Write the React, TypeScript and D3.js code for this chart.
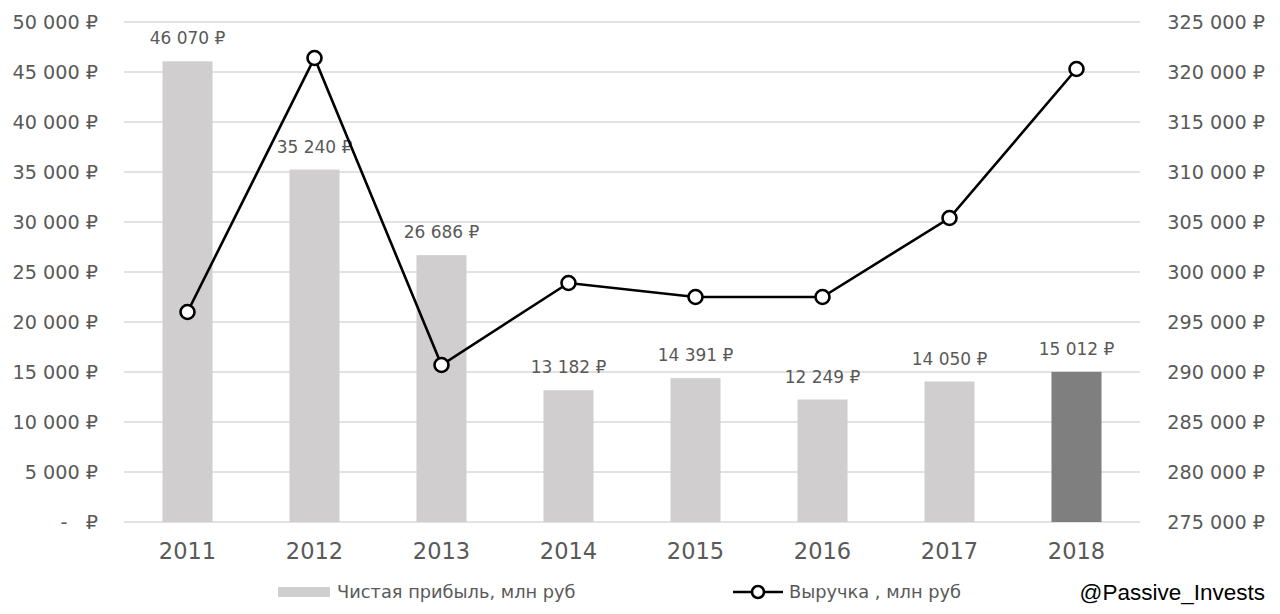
import { useEffect } from 'react';
import * as d3 from 'd3';

const years = ['2011', '2012', '2013', '2014', '2015', '2016', '2017', '2018'];
const profit = [46070, 35240, 26686, 13182, 14391, 12249, 14050, 15012];
const revenue = [296000, 321400, 290700, 298900, 297500, 297500, 305400, 320300];
const leftTicks = [0, 5000, 10000, 15000, 20000, 25000, 30000, 35000, 40000, 45000, 50000];
const rightTicks = [275000, 280000, 285000, 290000, 295000, 300000, 305000, 310000, 315000, 320000, 325000];

const W = 1280;
const H = 614;
const plot = { left: 124, right: 1140, top: 22, bottom: 522 };
const font = '"DejaVu Sans", "Noto Sans", sans-serif';
const textColor = '#595959';

const fmt = d3.format(',');
const rub = (v: number) => (v === 0 ? '-\u00a0\u00a0\u00a0₽' : fmt(v).replace(/,/g, '\u00a0') + '\u00a0₽');

export default function App() {
  useEffect(() => {
    document.body.style.margin = '0';
  }, []);

  const x = d3
    .scaleBand()
    .domain(years)
    .range([plot.left, plot.right])
    .paddingInner(0.606)
    .paddingOuter(0.303);
  const yL = d3.scaleLinear().domain([0, 50000]).range([plot.bottom, plot.top]);
  const yR = d3.scaleLinear().domain([275000, 325000]).range([plot.bottom, plot.top]);
  const cx = (y: string) => x(y)! + x.bandwidth() / 2;

  const line = d3
    .line<number>()
    .x((_, i) => cx(years[i]))
    .y(d => yR(d));

  return (
    <svg width={W} height={H} style={{ display: 'block', background: '#fff' }} fontFamily={font}>
      {leftTicks.map(t => (
        <line key={t} x1={plot.left} x2={plot.right} y1={yL(t)} y2={yL(t)} stroke="#d9d9d9" strokeWidth={1.5} />
      ))}
      {leftTicks.map(t => (
        <text key={t} x={98} y={yL(t)} dy="0.35em" textAnchor="end" fontSize={19.2} fill={textColor}>
          {rub(t)}
        </text>
      ))}
      {rightTicks.map(t => (
        <text key={t} x={1265} y={yR(t)} dy="0.35em" textAnchor="end" fontSize={19.2} fill={textColor}>
          {rub(t)}
        </text>
      ))}
      {years.map((yr, i) => (
        <rect
          key={yr}
          x={x(yr)}
          width={x.bandwidth()}
          y={yL(profit[i])}
          height={yL(0) - yL(profit[i])}
          fill={yr === '2018' ? '#7f7f7f' : '#d0cece'}
        />
      ))}
      {years.map((yr, i) => (
        <text key={yr} x={cx(yr)} y={yL(profit[i]) - 17} textAnchor="middle" fontSize={17} fill={textColor}>
          {rub(profit[i])}
        </text>
      ))}
      {years.map(yr => (
        <text key={yr} x={cx(yr)} y={551} dy="0.35em" textAnchor="middle" fontSize={22.5} fill={textColor}>
          {yr}
        </text>
      ))}
      <path d={line(revenue)!} fill="none" stroke="#000" strokeWidth={2.6} />
      {revenue.map((v, i) => (
        <circle key={i} cx={cx(years[i])} cy={yR(v)} r={7} fill="#fff" stroke="#000" strokeWidth={2.6} />
      ))}
      <g>
        <rect x={278} y={587} width={52} height={10} fill="#d0cece" />
        <text x={337} y={592} dy="0.35em" fontSize={17.8} fill={textColor}>
          Чистая прибыль, млн руб
        </text>
        <line x1={733} x2={783} y1={592} y2={592} stroke="#000" strokeWidth={2.6} />
        <circle cx={758} cy={592} r={6} fill="#fff" stroke="#000" strokeWidth={2.6} />
        <text x={789} y={592} dy="0.35em" fontSize={17.8} fill={textColor}>
          Выручка , млн руб
        </text>
        <text
          x={1265}
          y={592}
          dy="0.35em"
          textAnchor="end"
          fontSize={22.5}
          fontFamily='"Liberation Sans", Arial, sans-serif'
          fill="#000"
        >
          @Passive_Invests
        </text>
      </g>
    </svg>
  );
}
